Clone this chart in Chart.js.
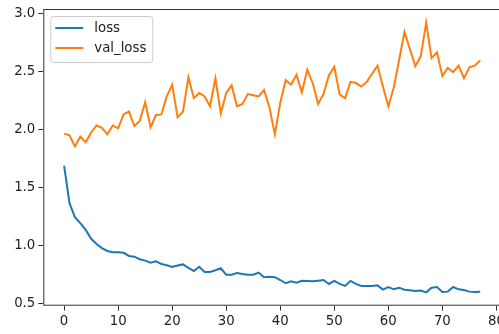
<!DOCTYPE html>
<html>
<head>
<meta charset="utf-8">
<script src="https://cdn.jsdelivr.net/npm/chart.js@4"></script>
<style>
  html, body { margin: 0; padding: 0; overflow: hidden; background: #fff; }
  canvas { display: block; }
</style>
</head>
<body>
<canvas id="lossChart" width="502" height="334"></canvas>
<script>
// training history, one value per epoch
const loss = [
    1.69, 1.367, 1.246, 1.195, 1.137, 1.06, 1.016, 0.98, 0.956, 0.945,
    0.945, 0.94, 0.913, 0.907, 0.885, 0.873, 0.855, 0.867, 0.844, 0.833,
    0.818, 0.83, 0.84, 0.81, 0.784, 0.82, 0.775, 0.775, 0.79, 0.807,
    0.752, 0.752, 0.767, 0.758, 0.752, 0.752, 0.77, 0.73, 0.735, 0.73,
    0.706, 0.678, 0.695, 0.683, 0.70, 0.698, 0.695, 0.70, 0.706, 0.672,
    0.698, 0.672, 0.655, 0.698, 0.672, 0.655, 0.655, 0.655, 0.66, 0.623,
    0.646, 0.626, 0.64, 0.623, 0.618, 0.612, 0.615, 0.60, 0.64, 0.646,
    0.603, 0.606, 0.646, 0.626, 0.62, 0.606, 0.603, 0.606
];
const valLoss = [
    1.965, 1.95, 1.855, 1.94, 1.89, 1.975, 2.035, 2.015, 1.96, 2.035,
    2.01, 2.13, 2.155, 2.03, 2.075, 2.235, 2.02, 2.125, 2.13, 2.285,
    2.385, 2.105, 2.155, 2.45, 2.27, 2.315, 2.285, 2.2, 2.44, 2.14,
    2.315, 2.38, 2.2, 2.22, 2.305, 2.295, 2.285, 2.34, 2.19, 1.96,
    2.23, 2.425, 2.385, 2.47, 2.32, 2.515, 2.40, 2.22, 2.305, 2.465,
    2.54, 2.30, 2.27, 2.41, 2.40, 2.37, 2.41, 2.48, 2.55, 2.37,
    2.20, 2.36, 2.60, 2.84, 2.69, 2.545, 2.63, 2.92, 2.615, 2.665,
    2.46, 2.53, 2.495, 2.55, 2.44, 2.535, 2.55, 2.595
];
const xTicks = [0, 10, 20, 30, 40, 50, 60, 70, 80];
const yTicks = [0.5, 1.0, 1.5, 2.0, 2.5, 3.0];

const FONT = "DejaVu Sans";
const toPoints = arr => arr.map((v, i) => ({ x: i, y: v }));

// frame around the plot area (all four sides)
const framePlugin = {
    id: "frame",
    afterDraw(chart) {
        const { ctx, chartArea: a } = chart;
        ctx.save();
        ctx.strokeStyle = "#333";
        ctx.lineWidth = 1;
        ctx.strokeRect(a.left + 0.5, a.top + 0.5, a.right - a.left - 1, a.bottom - a.top - 1);
        ctx.restore();
    }
};

// boxed legend in the upper left corner
const legendPlugin = {
    id: "boxLegend",
    afterDraw(chart) {
        const ctx = chart.ctx;
        const a = chart.chartArea;
        const x0 = a.left + 7, y0 = a.top + 7, w = 102, h = 46;
        ctx.save();
        ctx.beginPath();
        ctx.roundRect(x0 + 0.5, y0 + 0.5, w, h, 3);
        ctx.fillStyle = "rgba(255,255,255,0.8)";
        ctx.fill();
        ctx.strokeStyle = "#cccccc";
        ctx.lineWidth = 1;
        ctx.stroke();
        ctx.font = "13.3px '" + FONT + "'";
        ctx.textBaseline = "middle";
        ctx.fillStyle = "#222";
        chart.data.datasets.forEach((ds, i) => {
            const y = y0 + 12 + i * 20;
            ctx.beginPath();
            ctx.moveTo(x0 + 5, y);
            ctx.lineTo(x0 + 33, y);
            ctx.strokeStyle = ds.borderColor;
            ctx.lineWidth = 2;
            ctx.stroke();
            ctx.fillText(ds.label, x0 + 44, y + 0.5);
        });
        ctx.restore();
    }
};

new Chart(document.getElementById("lossChart"), {
    type: "line",
    data: {
        datasets: [{
            label: "loss",
            data: toPoints(loss),
            borderColor: "#1f77b4",
            borderWidth: 2,
            pointRadius: 0,
            tension: 0
        }, {
            label: "val_loss",
            data: toPoints(valLoss),
            borderColor: "#ff7f0e",
            borderWidth: 2,
            pointRadius: 0,
            tension: 0
        }]
    },
    options: {
        responsive: false,
        animation: false,
        layout: { padding: { top: 9, right: 1, left: 0, bottom: 0 } },
        plugins: {
            legend: { display: false },
            tooltip: { enabled: false }
        },
        scales: {
            x: {
                type: "linear",
                min: -3.85,
                max: 80.85,
                afterBuildTicks: s => { s.ticks = xTicks.map(v => ({ value: v })); },
                afterFit: s => {
                    s.height = 28.3;
                    // let the last tick label run off the edge
                    s.paddingLeft = 0;
                    s.paddingRight = 0;
                },
                ticks: {
                    padding: 3,
                    color: "#222",
                    font: { family: FONT, size: 13.3 },
                    maxRotation: 0
                },
                grid: { display: true, drawOnChartArea: false, drawTicks: true, tickLength: 5, color: "#333" },
                border: { display: false }
            },
            y: {
                type: "linear",
                min: 0.485,
                max: 3.037,
                afterBuildTicks: s => { s.ticks = yTicks.map(v => ({ value: v })); },
                afterFit: s => {
                    s.width = 43.3;
                    s.paddingTop = 0;
                    s.paddingBottom = 0;
                },
                ticks: {
                    padding: 3,
                    color: "#222",
                    font: { family: FONT, size: 13.3 },
                    callback: v => v.toFixed(1)
                },
                grid: { display: true, drawOnChartArea: false, drawTicks: true, tickLength: 5, color: "#333" },
                border: { display: false }
            }
        }
    },
    plugins: [framePlugin, legendPlugin]
});
</script>
</body>
</html>
